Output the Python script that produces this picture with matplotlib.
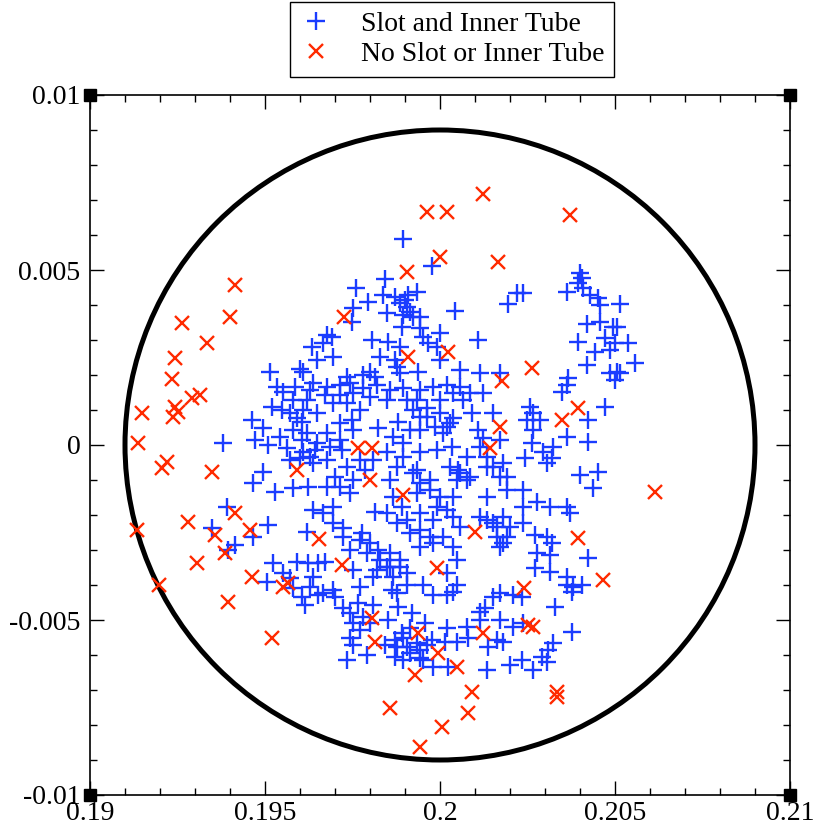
import matplotlib
matplotlib.use("Agg")
import numpy as np
import matplotlib.pyplot as plt
from matplotlib.patches import Circle
from matplotlib.ticker import MultipleLocator

# positions, in mm
slot_x_mm = [
    195.14, 196.00, 196.09, 196.34, 196.49,
    198.94, 199.77, 198.43, 197.60, 197.94, 198.37, 198.71, 199.34, 200.43, 201.94,
    202.20, 197.51, 197.49, 198.49, 199.43, 198.91, 199.43, 196.77, 196.91, 196.66,
    198.06, 198.51, 198.86, 199.51, 199.66, 200.00, 199.91, 201.09, 196.94, 198.29,
    198.71, 198.77, 198.00, 197.80, 198.14, 197.34, 198.86, 199.37, 200.00, 200.57,
    201.14, 201.71, 198.86, 199.00, 199.09, 199.06, 199.14, 198.94, 199.23,
    202.37, 203.63, 204.00, 204.06, 203.94, 204.09, 204.29, 204.51, 204.57, 205.14,
    204.20, 204.57, 204.94, 205.06, 203.94, 204.71, 205.00, 205.37, 204.43, 204.86,
    205.57, 204.20, 204.86, 205.06, 205.14, 203.66,
    193.80, 194.63, 194.94, 194.71, 195.09, 195.43, 195.63, 195.20, 195.49, 195.71,
    195.91, 196.06, 196.09, 195.51, 195.86, 196.29, 196.37, 196.06, 196.09, 196.00,
    196.29, 196.43, 194.94, 194.66, 195.29, 195.80, 196.23, 193.91, 195.09, 194.66,
    194.14, 193.49, 193.94, 196.37, 196.20, 195.23, 195.91, 196.23, 196.51, 195.51,
    195.71, 196.37,
    197.14, 197.43, 197.80, 198.20, 198.57, 198.94, 200.20, 200.57, 200.86, 201.23,
    196.71, 196.94, 197.34, 197.71, 197.49, 197.14, 198.23, 198.80, 199.14, 199.43,
    199.63, 199.34, 199.86, 200.20, 200.37, 200.00, 200.91, 201.51, 201.09, 201.23,
    201.71, 196.77, 196.86, 197.20, 197.34, 196.77, 198.49, 198.94, 199.43, 199.91,
    200.34, 200.77, 198.77, 199.34, 199.71, 200.51, 200.86, 201.34, 201.71, 201.91,
    197.00, 197.14, 197.51, 197.86, 198.57, 198.66, 199.34, 200.00, 200.37, 201.34,
    198.14, 198.91, 199.06, 199.43, 199.80, 200.37, 200.57, 201.14, 201.51, 201.80,
    202.00, 201.63, 201.80, 196.66, 196.94, 197.23, 197.77, 198.00, 198.23, 198.57,
    198.86, 198.49, 199.43, 199.80, 200.09, 200.37, 200.49, 200.20, 199.06, 197.43,
    196.71, 197.51, 198.09, 198.66,
    203.63, 203.49, 205.00, 204.71, 204.23, 203.63, 204.23, 202.57, 202.66, 202.49,
    202.86, 202.66, 202.63, 202.43, 202.94, 203.23, 203.20, 203.06, 204.00, 204.51,
    204.37, 202.37, 202.37, 202.77, 203.14, 203.63, 203.71, 202.37, 202.71, 203.06,
    203.20, 202.77, 203.14, 204.23, 202.71, 203.14, 203.63,
    195.06, 195.80, 196.06, 196.14, 196.29, 196.51,
    196.66, 197.00, 197.23, 197.71, 197.66, 198.09, 197.80, 197.51, 197.71, 198.51,
    198.80, 198.63, 198.77, 199.06, 199.51, 199.80, 200.20, 200.49, 200.37, 199.20,
    199.57, 199.14, 197.43, 197.51, 197.91, 197.34, 198.43, 198.71, 198.91, 199.06,
    198.71, 198.94, 199.43, 199.63, 199.51, 199.80, 199.77, 200.20, 200.14, 200.49,
    200.77, 200.80, 200.23, 201.14, 201.29, 201.51, 201.71, 202.09, 201.37, 201.63,
    201.80, 201.34, 202.00, 202.09,
    202.34, 203.63, 203.80, 204.06, 203.77, 203.29, 202.37, 203.77, 203.23, 203.09,
    202.91, 203.06, 202.34, 202.66,
    # denser middle band
    196.77, 197.14, 197.51, 198.00, 198.49, 199.06, 199.43, 199.80, 200.37, 200.66,
    199.23, 199.63, 200.00, 199.43, 200.09, 200.29, 201.14, 201.34, 201.51, 201.80,
    201.91, 200.29, 200.57, 200.77, 200.49, 201.34, 201.63, 201.91, 201.71, 197.91,
    198.29, 198.57, 198.86, 198.20, 197.71, 197.23, 196.94, 196.77, 197.43, 197.71,
    198.09, 197.14, 197.51, 198.66, 198.94, 199.23, 199.43, 199.71, 199.91, 200.20,
    198.49, 198.77, 199.14, 199.43, 199.71,
    198.77, 199.14, 199.43, 199.34, 198.94, 198.00, 197.43, 196.94, 201.14, 201.71,
    195.34, 195.80, 196.20, 196.49, 195.80, 196.20, 196.49, 195.71, 196.37,
]
slot_y_mm = [
    2.09, 2.17, 2.09, 2.80, 2.43,
    5.89, 5.11, 4.74, 4.49, 4.09, 4.29, 4.23, 4.37, 3.83, 4.03,
    4.34, 3.91, 3.51, 3.77, 3.66, 3.37, 3.34, 3.14, 3.09, 2.91,
    3.00, 2.94, 2.80, 3.09, 2.91, 3.20, 2.80, 3.00, 2.51, 2.51,
    2.43, 2.23, 2.09, 2.00, 1.94, 1.94, 2.06, 2.09, 2.43, 2.14,
    2.06, 2.06, 4.06, 4.14, 4.29, 3.94, 3.80, 3.71, 3.66,
    4.34, 4.37, 4.91, 4.77, 4.63, 4.49, 4.29, 4.20, 4.00, 4.03,
    3.46, 3.51, 3.37, 3.37, 2.94, 3.06, 2.91, 2.91, 2.66, 2.71,
    2.34, 2.29, 2.06, 2.09, 2.06, 1.91,
    0.06, 0.71, 0.49, 0.14, 0.00, 0.23, -0.09, 1.09, 1.00, 0.91,
    0.77, 0.66, 1.00, 1.51, 1.66, 1.57, 1.77, 0.14, -0.20, -0.37,
    -0.34, -0.14, -0.77, -1.09, -1.34, -1.23, -1.20, -1.77, -2.29, -2.63,
    -2.86, -2.37, -3.00, -1.86, -2.49, -3.37, -3.34, -3.37, -3.37, -3.66,
    -3.80, -3.77,
    1.71, 1.77, 1.63, 1.71, 1.57, 1.63, 1.71, 1.66, 1.49, 1.49,
    1.43, 1.20, 1.20, 1.00, 0.71, 0.63, 0.49, 0.66, 0.43, 0.80,
    1.06, 1.29, 0.51, 0.51, 0.77, 1.29, 0.91, 0.91, 0.43, 0.20,
    0.14, 0.34, -0.06, -0.14, -0.63, -0.43, -0.20, -0.34, -0.20, -0.14,
    -0.06, -0.34, -0.63, -0.71, -1.00, -0.71, -0.91, -0.63, -0.91, -1.29,
    -0.91, -1.20, -1.00, -0.71, -1.00, -1.49, -1.37, -1.49, -1.49, -1.49,
    -1.91, -1.77, -2.14, -1.94, -2.14, -2.06, -2.34, -2.06, -2.23, -2.06,
    -2.34, -2.63, -2.80, -1.94, -2.23, -2.37, -2.51, -2.80, -3.00, -3.09,
    -3.49, -3.49, -2.91, -2.80, -2.63, -2.91, -3.29, -3.66, -3.66, -3.00,
    -3.34, -3.57, -3.77, -3.77,
    1.71, 1.51, 1.86, 1.09, 0.71, 0.23, 0.09, 1.09, 0.91, 0.71,
    0.71, 0.43, 0.06, -0.37, -0.20, -0.06, -0.37, -0.51, -0.86, -0.77,
    -1.23, -1.29, -1.77, -1.63, -1.77, -1.77, -1.94, -2.23, -2.57, -2.63,
    -2.80, -3.09, -3.14, -3.23, -3.51, -3.63, -3.77,
    -3.91, -4.09, -4.34, -4.57, -4.06, -4.29,
    -4.23, -4.34, -4.66, -4.06, -4.51, -4.57, -4.91, -5.09, -5.29, -5.00,
    -4.63, -4.14, -4.23, -4.00, -4.00, -4.29, -4.29, -4.00, -4.20, -4.80,
    -5.09, -5.23, -5.51, -5.71, -6.00, -6.14, -5.71, -5.57, -5.37, -5.77,
    -6.06, -6.14, -5.86, -5.71, -6.14, -6.34, -5.57, -5.23, -5.63, -5.63,
    -5.20, -5.51, -6.34, -4.77, -4.66, -4.34, -4.23, -4.29, -5.77, -5.57,
    -5.63, -6.43, -6.29, -5.20,
    -4.34, -4.00, -4.06, -4.00, -4.20, -4.63, -5.09, -5.34, -5.66, -5.86,
    -6.06, -6.20, -6.14, -6.43,
    # denser middle band
    1.66, 1.43, 1.49, 1.37, 1.29, 1.29, 1.57, 1.66, 1.49, 1.29,
    1.00, 0.80, 0.91, 0.43, 0.34, 0.63, -0.06, -0.34, -0.63, -0.51,
    -0.91, -0.63, -0.80, -1.00, -1.00, -2.14, -2.34, -2.63, -2.91, -3.09,
    -3.29, -3.49, -3.29, -3.57, -2.71, -2.63, -1.77, -1.20, -1.37, -0.43,
    -0.43, 0.14, 0.43, 0.23, 0.06, -0.80, -1.09, -1.29, -1.77, -1.86,
    -1.94, -2.23, -2.51, -2.43, -2.63,
    -5.77, -5.94, -6.09, -5.66, -5.51, -5.09, -4.80, -4.14, -5.00, -5.00,
    1.66, 1.29, 1.29, 0.91, 0.43, 0.34, 0.06, -0.43, -0.51,
]

noslot_x_mm = [
    201.23, 199.63, 200.20, 200.00, 201.66, 199.06, 197.26, 199.09, 200.23, 201.77,
    203.71, 202.63, 194.14, 194.00, 192.63, 193.34, 192.43, 192.34, 191.49, 192.43,
    192.51, 192.37, 192.91, 193.14, 191.37, 192.06, 192.20, 193.49, 195.91, 192.80,
    191.34, 194.14, 194.57, 193.57, 193.86, 193.06, 194.63, 196.54, 191.97, 193.94,
    195.20, 195.51, 195.66, 201.71, 201.43, 197.66, 198.06, 198.00, 198.94, 201.00,
    197.20, 199.91, 203.94, 203.49, 206.14, 203.94, 204.66, 198.06, 198.14, 199.37,
    199.94, 199.29, 200.49, 201.23, 200.91, 200.80, 198.57, 200.06, 199.43, 202.40,
    202.51, 202.66, 203.34, 203.34,
]
noslot_y_mm = [
    7.17, 6.66, 6.66, 5.37, 5.23, 4.94, 3.66, 2.51, 2.66, 1.83,
    6.57, 2.20, 4.57, 3.66, 3.49, 2.91, 2.49, 1.89, 0.91, 1.09,
    0.94, 0.80, 1.34, 1.43, 0.06, -0.66, -0.49, -0.77, -0.71, -2.20,
    -2.43, -1.94, -2.43, -2.57, -3.09, -3.37, -3.77, -2.69, -4.00, -4.49,
    -5.51, -4.06, -3.94, 0.51, -0.09, -0.09, -0.09, -1.00, -1.43, -2.49,
    -3.43, -3.51, 1.06, 0.71, -1.34, -2.66, -3.86, -4.94, -5.63, -5.37,
    -5.94, -6.57, -6.34, -5.37, -7.06, -7.66, -7.51, -8.06, -8.63, -4.09,
    -5.14, -5.20, -7.06, -7.20,
]

slot_label = "Slot and Inner Tube"
noslot_label = "No Slot or Inner Tube"

tube_center = (0.2, 0.0)
tube_radius = 0.009

xlim = (0.19, 0.21)
ylim = (-0.01, 0.01)
xticks = [0.19, 0.195, 0.2, 0.205, 0.21]
xtick_labels = ["0.19", "0.195", "0.2", "0.205", "0.21"]
yticks = [-0.01, -0.005, 0.0, 0.005, 0.01]
ytick_labels = ["-0.01", "-0.005", "0", "0.005", "0.01"]

plt.rcParams["font.family"] = ["Liberation Serif", "DejaVu Serif"]
plt.rcParams["axes.unicode_minus"] = False

fig = plt.figure(figsize=(8.15, 8.26), dpi=100)
ax = fig.add_axes([90 / 815, 31 / 826, 700 / 815, 700 / 826])

slot_x = np.array(slot_x_mm) / 1000
slot_y = np.array(slot_y_mm) / 1000
noslot_x = np.array(noslot_x_mm) / 1000
noslot_y = np.array(noslot_y_mm) / 1000

ax.plot(slot_x, slot_y, ls="none", marker="+", ms=13, mew=1.7,
        color="#1a3cff", label=slot_label, zorder=3)
ax.plot(noslot_x, noslot_y, ls="none", marker="x", ms=9.5, mew=1.7,
        color="#ff2a00", label=noslot_label, zorder=4)
ax.add_patch(Circle(tube_center, tube_radius, fill=False, lw=3.6,
                    edgecolor="black", zorder=2))

ax.set_xlim(xlim)
ax.set_ylim(ylim)
ax.set_xticks(xticks, xtick_labels)
ax.set_yticks(yticks, ytick_labels)
ax.xaxis.set_minor_locator(MultipleLocator(0.001))
ax.yaxis.set_minor_locator(MultipleLocator(0.001))
ax.tick_params(which="both", direction="in", top=True, right=True, width=1)
ax.tick_params(which="major", length=10, labelsize=20)
ax.tick_params(which="minor", length=5)
ax.tick_params(axis="x", pad=4)
ax.tick_params(axis="y", pad=7)
for s in ax.spines.values():
    s.set_linewidth(1.2)

# small filled squares at the corners of the frame
ax.plot([xlim[0], xlim[1], xlim[0], xlim[1]], [ylim[0], ylim[0], ylim[1], ylim[1]],
        ls="none", marker="s", ms=8, color="black", clip_on=False, zorder=6)

leg = fig.legend(loc="upper center", bbox_to_anchor=(452 / 815, 1 - 2 / 826),
                 fontsize=20, frameon=True, fancybox=False, edgecolor="black",
                 framealpha=1, handlelength=1.2, handletextpad=1.0,
                 borderpad=0.35, labelspacing=0.15, borderaxespad=0)
leg.get_frame().set_linewidth(1.0)

fig.savefig("out.png", dpi=100)
